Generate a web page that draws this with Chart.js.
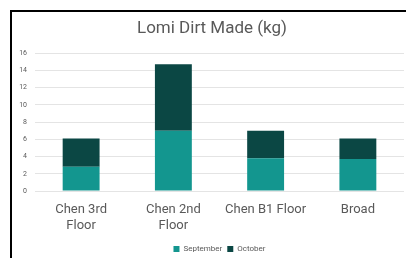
<!DOCTYPE html>
<html>
<head>
<meta charset="utf-8">
<script src="https://cdn.jsdelivr.net/npm/chart.js@4.4.1/dist/chart.umd.min.js"></script>
<style>
  html, body { margin: 0; padding: 0; background: #fff; }
  #wrap { position: relative; width: 406px; height: 258px; overflow: hidden; }
  #frame { position: absolute; left: 10px; top: 10px; width: 400px; height: 260px;
           border-top: 2px solid #000; border-left: 2px solid #000; pointer-events: none; }
  canvas { position: absolute; left: 0; top: 0; }
</style>
</head>
<body>
<div id="wrap">
  <canvas id="chart" width="406" height="258"></canvas>
  <div id="frame"></div>
</div>
<script>
const chartTitle = 'Lomi Dirt Made (kg)';
const locations = [['Chen 3rd', 'Floor'], ['Chen 2nd', 'Floor'], 'Chen B1 Floor', 'Broad'];
const september = [2.8, 7.0, 3.8, 3.7];
const october = [3.3, 7.7, 3.2, 2.4];
const yTicks = [0, 2, 4, 6, 8, 10, 12, 14, 16];

const textColor = '#595959';
const fontFamily = 'Roboto, "Noto Sans", sans-serif';

// title drawn at a fixed spot, like the original sits a bit left of the plot centre
const titlePlugin = {
    id: 'fixedTitle',
    afterDraw(chart) {
        const ctx = chart.ctx;
        ctx.save();
        ctx.font = `17px ${fontFamily}`;
        ctx.fillStyle = textColor;
        ctx.textAlign = 'center';
        ctx.textBaseline = 'middle';
        ctx.fillText(chartTitle, 212, 29);
        ctx.restore();
    }
};

const ctx = document.getElementById('chart').getContext('2d');

new Chart(ctx, {
    type: 'bar',
    data: {
        labels: locations,
        datasets: [
            {
                label: 'September',
                data: september,
                backgroundColor: '#13968F',
                borderWidth: 0,
                categoryPercentage: 0.4,
                barPercentage: 1
            },
            {
                label: 'October',
                data: october,
                backgroundColor: '#0B4744',
                borderWidth: 0,
                categoryPercentage: 0.4,
                barPercentage: 1
            }
        ]
    },
    options: {
        responsive: false,
        animation: false,
        layout: {
            padding: { top: 53, right: 2, bottom: -5, left: 0 }
        },
        plugins: {
            legend: {
                position: 'bottom',
                fullSize: false,
                labels: {
                    boxWidth: 6,
                    boxHeight: 6,
                    padding: 5,
                    color: textColor,
                    font: { family: fontFamily, size: 8 }
                }
            },
            title: { display: false },
            tooltip: { enabled: false }
        },
        scales: {
            x: {
                stacked: true,
                grid: { display: false },
                border: { display: false },
                afterFit: (scale) => { scale.height = 49; },
                ticks: {
                    color: textColor,
                    font: { family: fontFamily, size: 13 },
                    padding: 3,
                    maxRotation: 0,
                    autoSkip: false
                }
            },
            y: {
                stacked: true,
                min: yTicks[0],
                max: yTicks[yTicks.length - 1],
                afterFit: (scale) => { scale.width = 35; },
                afterBuildTicks: (scale) => { scale.ticks = yTicks.map(v => ({ value: v })); },
                grid: { color: '#e4e4e4', lineWidth: 1, drawTicks: false },
                border: { display: false },
                ticks: {
                    color: textColor,
                    font: { family: fontFamily, size: 7 },
                    padding: 8
                }
            }
        }
    },
    plugins: [titlePlugin]
});
</script>
</body>
</html>
